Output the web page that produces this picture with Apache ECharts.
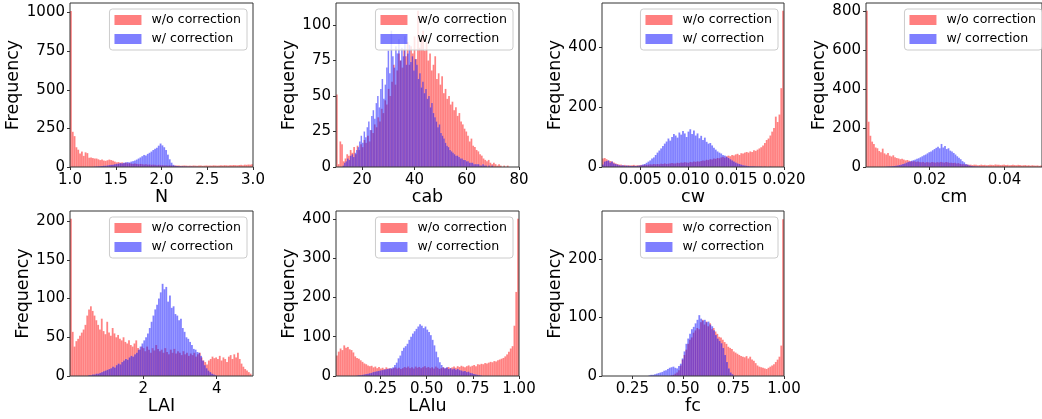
<!DOCTYPE html>
<html>
<head>
<meta charset="utf-8">
<script src="https://cdn.jsdelivr.net/npm/echarts@6/dist/echarts.min.js"></script>
<style>
  html, body { margin: 0; padding: 0; background: #ffffff; }
  #chart { width: 1042px; height: 419px; }
</style>
</head>
<body>
<div id="chart"></div>
<script>
// Histogram counts per parameter: "raw" = w/o correction, "cor" = w/ correction.
// Each count array is paired with the [lo, hi] range its equal-width bins span.

// N
const nRawRange = [1.0, 3.0];
const nRaw = [
  1010, 228, 200, 128, 112, 88, 100, 72, 95, 90,
  60, 62, 58, 55, 55, 50, 45, 48, 42, 40,
  44, 48, 45, 40, 35, 30, 32, 28, 30, 25,
  28, 24, 25, 22, 20, 22, 20, 18, 20, 18,
  16, 18, 15, 16, 14, 15, 14, 12, 14, 12,
  12, 11, 12, 10, 11, 10, 9, 10, 9, 10,
  8, 9, 10, 9, 8, 9, 8, 10, 9, 8,
  9, 10, 8, 9, 10, 9, 10, 9, 11, 10,
  9, 10, 11, 10, 12, 11, 10, 12, 11, 13,
  12, 11, 13, 14, 12, 15, 14, 16, 15, 18
];
const nCorRange = [1.26, 2.40];
const nCor = [
  2, 3, 4, 5, 6, 8, 8, 10, 12, 14, 15, 18,
  20, 22, 25, 24, 28, 30, 32, 30, 35, 38,
  42, 48, 55, 62, 70, 78, 75, 85, 92, 100,
  110, 118, 125, 138, 152, 140, 128, 110, 80, 50,
  28, 14, 8, 6, 5, 4, 4, 3, 3, 2, 2, 2, 1, 1, 1
];

// cab
const cabRawRange = [10, 76];
const cabRaw = [
  51, 2, 18, 16, 4, 6, 9, 8, 12, 10,
  14, 9, 15, 12, 16, 14, 19, 17, 22, 18,
  26, 24, 30, 28, 35, 32, 41, 38, 47, 44,
  55, 50, 60, 72, 58, 68, 80, 75, 70, 83,
  78, 88, 72, 85, 80, 92, 76, 110, 84, 90,
  96, 82, 88, 75, 80, 68, 72, 78, 62, 66,
  58, 64, 52, 55, 48, 50, 44, 46, 40, 42,
  36, 38, 32, 30, 27, 25, 22, 18, 20, 15,
  14, 12, 11, 9, 8, 6, 5, 4, 5, 3,
  2, 3, 2, 1, 2, 1, 0, 1, 0, 1
];
const cabCorRange = [12.5, 70];
const cabCor = [
  1, 3, 4, 6, 5, 8, 9, 7, 10, 12,
  14, 18, 22, 17, 25, 21, 28, 32, 26, 36,
  40, 34, 45, 50, 42, 55, 62, 48, 58, 70,
  82, 66, 96, 78, 70, 85, 80, 90, 75, 84,
  78, 92, 72, 80, 86, 74, 78, 68, 76, 72,
  62, 66, 56, 60, 52, 55, 48, 50, 42, 45,
  38, 35, 32, 28, 30, 24, 22, 20, 17, 15,
  14, 12, 11, 10, 9, 8, 8, 7, 6, 6,
  5, 5, 4, 4, 3, 3, 3, 2, 2, 2,
  2, 1, 1, 2, 1, 1, 0, 1, 0, 1
];

// cw
const cwRawRange = [0.001, 0.020];
const cwRaw = [
  28, 30, 26, 22, 20, 18, 15, 12, 10, 8,
  8, 6, 7, 5, 6, 5, 6, 7, 5, 6,
  6, 7, 6, 8, 7, 8, 9, 8, 10, 9,
  10, 9, 11, 10, 12, 10, 11, 12, 13, 12,
  12, 14, 13, 15, 14, 16, 15, 14, 17, 16,
  18, 17, 19, 18, 20, 22, 21, 24, 23, 26,
  25, 28, 27, 30, 29, 32, 34, 31, 36, 38,
  36, 40, 38, 42, 44, 40, 46, 45, 48, 50,
  48, 52, 50, 56, 54, 58, 62, 66, 72, 80,
  90, 95, 105, 118, 130, 168, 150, 175, 263, 521
];
const cwCorRange = [0.001, 0.020];
const cwCor = [
  8, 18, 20, 22, 15, 18, 12, 10, 8, 6,
  5, 6, 4, 5, 4, 4, 3, 4, 3, 4,
  5, 6, 8, 10, 14, 18, 22, 28, 32, 40,
  48, 55, 62, 70, 78, 85, 95, 88, 100, 110,
  105, 98, 115, 108, 120, 112, 100, 118, 126, 110,
  122, 105, 112, 96, 104, 90, 98, 84, 78, 80,
  72, 64, 58, 52, 48, 45, 40, 38, 34, 30,
  26, 22, 18, 15, 12, 10, 8, 6, 5, 4,
  3, 2, 2, 2, 1, 1, 1, 1, 0, 1,
  0, 0, 1, 0, 0, 0, 0, 0, 0, 0
];

// cm
const cmRawRange = [0.003, 0.050];
const cmRaw = [
  800, 232, 160, 130, 118, 100, 96, 82, 76, 94,
  70, 64, 72, 58, 54, 60, 50, 46, 44, 40,
  42, 38, 34, 36, 32, 30, 28, 30, 26, 28,
  25, 24, 26, 22, 25, 24, 22, 26, 24, 22,
  25, 23, 26, 24, 22, 25, 24, 21, 22, 20,
  22, 18, 20, 16, 14, 15, 12, 13, 11, 12,
  10, 12, 11, 9, 10, 12, 10, 11, 9, 10,
  12, 11, 10, 13, 11, 12, 10, 11, 12, 10,
  11, 9, 10, 12, 10, 9, 11, 10, 8, 9,
  10, 8, 9, 7, 9, 8, 7, 8, 6, 8
];
const cmCorRange = [0.008, 0.036];
const cmCor = [
  1, 2, 2, 3, 4, 5, 6, 8, 10, 12,
  15, 18, 22, 26, 28, 32, 35, 38, 42, 45,
  50, 55, 60, 64, 70, 76, 80, 86, 92, 98,
  104, 96, 118, 100, 108, 92, 96, 84, 80, 72,
  64, 55, 48, 40, 30, 24, 16, 12, 8, 6,
  4, 3, 2, 2, 1, 1, 1, 0, 1, 0
];

// LAI
const laiRawRange = [0, 4.95];
const laiRaw = [
  203, 57, 38, 45, 48, 52, 56, 60, 66, 78,
  86, 90, 84, 78, 72, 66, 60, 74, 58, 54,
  70, 56, 52, 62, 55, 50, 53, 48, 46, 50,
  44, 42, 46, 40, 38, 42, 46, 36, 34, 38,
  36, 32, 38, 34, 30, 36, 33, 40, 35, 32,
  34, 30, 36, 31, 28, 34, 30, 35, 29, 32,
  30, 27, 32, 28, 30, 26, 29, 27, 30, 25,
  28, 30, 24, 20, 18, 15, 20, 22, 25, 23,
  24, 22, 26, 20, 24, 22, 18, 25, 27, 22,
  28, 24, 30, 22, 16, 12, 9, 7, 5, 3
];
const laiCorRange = [0.5, 4.0];
const laiCor = [
  1, 1, 2, 2, 3, 3, 4, 5, 6, 7,
  8, 9, 10, 12, 11, 14, 16, 15, 18, 20,
  22, 21, 24, 26, 25, 28, 30, 34, 38, 42,
  46, 50, 55, 62, 70, 78, 86, 92, 100, 108,
  119, 112, 115, 96, 104, 88, 90, 80, 78, 72,
  74, 62, 57, 50, 48, 44, 40, 35, 34, 31,
  30, 26, 20, 14, 10, 7, 5, 3, 2, 1
];

// LAIu
const laiuRawRange = [0.01, 1.0];
const laiuRaw = [
  52, 62, 70, 66, 78, 72, 74, 68, 66, 60,
  50, 46, 44, 40, 36, 32, 30, 27, 25, 26,
  22, 24, 20, 23, 19, 21, 18, 22, 19, 20,
  18, 20, 22, 19, 21, 18, 20, 23, 21, 24,
  20, 22, 19, 24, 21, 23, 20, 22, 25, 21,
  23, 20, 22, 19, 24, 21, 18, 20, 22, 19,
  21, 23, 20, 22, 24, 21, 25, 23, 26, 24,
  22, 25, 27, 24, 26, 28, 25, 30, 29, 31,
  30, 33, 32, 34, 36, 35, 38, 37, 40, 42,
  44, 46, 50, 55, 62, 70, 76, 128, 214, 400
];
const laiuCorRange = [0.12, 0.80];
const laiuCor = [
  1, 2, 2, 3, 4, 5, 6, 7, 8, 10,
  11, 12, 13, 14, 15, 16, 17, 18, 19, 20,
  22, 28, 34, 45, 52, 64, 72, 76, 82, 92,
  100, 108, 114, 120, 126, 132, 128, 122, 126, 118,
  112, 104, 92, 78, 62, 48, 35, 28, 22, 20,
  22, 18, 20, 17, 19, 16, 18, 15, 14, 12,
  13, 10, 11, 8, 7, 5, 4, 3, 2, 1
];

// fc
const fcRawRange = [0.44, 1.0];
const fcRaw = [
  1, 2, 4, 6, 10, 18, 28, 36, 45, 55,
  62, 66, 74, 78, 82, 80, 92, 96, 88, 93,
  85, 90, 80, 82, 76, 72, 67, 66, 62, 58,
  55, 50, 48, 46, 42, 40, 38, 36, 34, 33,
  32, 34, 30, 33, 28, 26, 22, 18, 16, 15,
  14, 13, 12, 14, 16, 18, 20, 24, 28, 33,
  52, 268
];
const fcCorRange = [0.33, 0.75];
const fcCor = [
  1, 2, 2, 3, 4, 5, 6, 7, 9, 10,
  12, 14, 15, 16, 14, 13, 17, 21, 30, 42,
  55, 64, 72, 80, 84, 90, 96, 104, 98, 95,
  96, 92, 93, 88, 85, 78, 70, 64, 60, 56,
  48, 36, 24, 13, 6, 3
];

// Axis names, limits and tick labels
const xNames = ['N', 'cab', 'cw', 'cm', 'LAI', 'LAIu', 'fc'];
const xLimits = [[1.0, 3.0], [10, 80], [0.001, 0.020], [0.003, 0.050], [0, 4.99], [0.01, 1.0], [0.1, 1.0]];
const xTickValues = [
  [1.0, 1.5, 2.0, 2.5, 3.0], [20, 40, 60, 80], [0.005, 0.010, 0.015, 0.020], [0.02, 0.04],
  [2, 4], [0.25, 0.50, 0.75, 1.00], [0.25, 0.50, 0.75, 1.00]
];
const xTickLabels = [
  ['1.0', '1.5', '2.0', '2.5', '3.0'], ['20', '40', '60', '80'], ['0.005', '0.010', '0.015', '0.020'], ['0.02', '0.04'],
  ['2', '4'], ['0.25', '0.50', '0.75', '1.00'], ['0.25', '0.50', '0.75', '1.00']
];
const yMax = [1062, 115.5, 547, 840, 213, 420, 282];
const yTickValues = [
  [0, 250, 500, 750, 1000], [0, 25, 50, 75, 100], [0, 200, 400], [0, 200, 400, 600, 800],
  [0, 50, 100, 150, 200], [0, 100, 200, 300, 400], [0, 100, 200]
];

const rawSeries = [
  [nRaw, nRawRange], [cabRaw, cabRawRange], [cwRaw, cwRawRange], [cmRaw, cmRawRange],
  [laiRaw, laiRawRange], [laiuRaw, laiuRawRange], [fcRaw, fcRawRange]
];
const corSeries = [
  [nCor, nCorRange], [cabCor, cabCorRange], [cwCor, cwCorRange], [cmCor, cmCorRange],
  [laiCor, laiCorRange], [laiuCor, laiuCorRange], [fcCor, fcCorRange]
];

const RAW_NAME = 'w/o correction';
const COR_NAME = 'w/ correction';
const RAW_COLOR = 'rgba(255, 0, 0, 0.5)';
const COR_COLOR = 'rgba(0, 0, 255, 0.5)';
const FONT = 'DejaVu Sans';
const INK = '#000000';
const FRAME = '#333333';

// Panel placement (pixels): 4 panels on the upper row, 3 on the lower row
const panelBoxes = [
  { left: 70, top: 3, width: 183, height: 164 },
  { left: 336, top: 3, width: 183, height: 164 },
  { left: 602, top: 3, width: 182, height: 164 },
  { left: 866, top: 3, width: 182, height: 164 },
  { left: 70, top: 211, width: 183, height: 165 },
  { left: 336, top: 211, width: 183, height: 165 },
  { left: 602, top: 211, width: 182, height: 165 }
];
const CHART_W = 1042;

// Turn a count array into [binStart, binEnd, count] rows
function toBins(counts, range) {
  const w = (range[1] - range[0]) / counts.length;
  return counts.map((c, i) => [range[0] + i * w, range[0] + (i + 1) * w, c]);
}

function renderBar(params, api) {
  const start = api.coord([api.value(0), 0]);
  const end = api.coord([api.value(1), api.value(2)]);
  const h = start[1] - end[1];
  if (h <= 0) return null;
  return {
    type: 'rect',
    shape: { x: start[0], y: end[1], width: end[0] - start[0], height: h },
    style: { fill: api.visual('color'), stroke: 'rgba(255,255,255,0.18)', lineWidth: 0.4 }
  };
}

const grids = [], xAxes = [], yAxes = [], series = [], legends = [];

panelBoxes.forEach((box, i) => {
  grids.push({
    left: box.left, top: box.top, width: box.width, height: box.height,
    show: true, z: 5, backgroundColor: 'rgba(0,0,0,0)',
    borderColor: FRAME, borderWidth: 1
  });
  const tickVals = xTickValues[i], tickLabs = xTickLabels[i];
  xAxes.push({
    type: 'value', gridIndex: i, min: xLimits[i][0], max: xLimits[i][1],
    name: xNames[i], nameLocation: 'middle', nameGap: i < 4 ? 21 : 19,
    nameTextStyle: { fontFamily: FONT, fontSize: 17.5, color: INK },
    axisLine: { show: false }, splitLine: { show: false },
    axisTick: { show: true, length: 3, customValues: tickVals, lineStyle: { color: FRAME, width: 1 } },
    axisLabel: {
      customValues: tickVals, margin: 6, fontFamily: FONT, fontSize: 15, color: INK,
      formatter: (v) => {
        let best = 0;
        tickVals.forEach((t, k) => { if (Math.abs(t - v) < Math.abs(tickVals[best] - v)) best = k; });
        return tickLabs[best];
      }
    }
  });
  yAxes.push({
    type: 'value', gridIndex: i, min: 0, max: yMax[i],
    name: 'Frequency', nameLocation: 'middle', nameRotate: 90, nameGap: i === 0 ? 36 : 31,
    nameTextStyle: { fontFamily: FONT, fontSize: 17.5, color: INK },
    axisLine: { show: false }, splitLine: { show: false },
    axisTick: { show: true, length: 3, customValues: yTickValues[i], lineStyle: { color: FRAME, width: 1 } },
    axisLabel: {
      customValues: yTickValues[i], margin: 5, fontFamily: FONT, fontSize: 15, color: INK,
      formatter: (v) => String(Math.round(v))
    }
  });
  series.push({
    type: 'custom', name: RAW_NAME, xAxisIndex: i, yAxisIndex: i, clip: true,
    itemStyle: { color: RAW_COLOR }, renderItem: renderBar,
    encode: { x: [0, 1], y: 2 }, data: toBins(rawSeries[i][0], rawSeries[i][1])
  });
  series.push({
    type: 'custom', name: COR_NAME, xAxisIndex: i, yAxisIndex: i, clip: true,
    itemStyle: { color: COR_COLOR }, renderItem: renderBar,
    encode: { x: [0, 1], y: 2 }, data: toBins(corSeries[i][0], corSeries[i][1])
  });
  const legendRightEdge = Math.min(box.left + box.width - 6, CHART_W);
  legends.push({
    orient: 'vertical', selectedMode: false, icon: 'rect',
    right: CHART_W - legendRightEdge, top: box.top + 6,
    itemWidth: 27, itemHeight: 10, itemGap: 5, padding: [4, 6, 4, 5],
    backgroundColor: 'rgba(255,255,255,0.8)', borderColor: '#cccccc', borderWidth: 1, borderRadius: 3,
    textStyle: { fontFamily: FONT, fontSize: 12.6, color: INK, lineHeight: 14, padding: [0, 0, 0, 5] },
    data: [RAW_NAME, COR_NAME], z: 8
  });
});

const chart = echarts.init(document.getElementById('chart'), null, { renderer: 'canvas' });
chart.setOption({
  animation: false,
  backgroundColor: '#ffffff',
  grid: grids,
  xAxis: xAxes,
  yAxis: yAxes,
  legend: legends,
  series: series
});
</script>
</body>
</html>
